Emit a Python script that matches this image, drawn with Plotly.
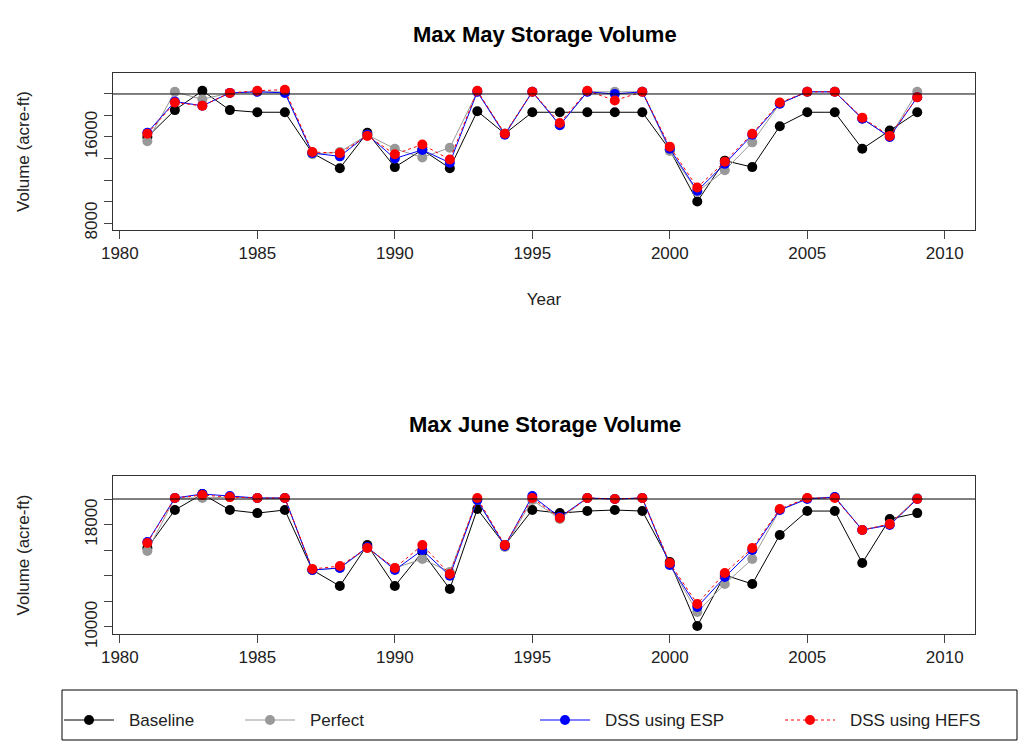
import plotly.graph_objects as go

years = list(range(1981, 2010))
may_base = [16000,18500,20300,18500,18300,18300,14500,13100,16400,13200,14800,13100,18400,16300,18300,18300,18300,18300,18300,14800,10000,13800,13200,17000,18300,18300,14900,16600,18300]
may_perf = [15600,20200,19500,20100,20200,20200,14400,14600,16200,14900,14100,15000,20200,16300,20200,17100,20200,20200,20200,14700,10900,12900,15500,19100,20200,20200,17700,16000,20200]
may_esp = [16400,19300,18900,20100,20200,20100,14500,14200,16200,14000,14800,13600,20200,16200,20200,17100,20200,20000,20200,14900,11000,13500,16200,19100,20200,20200,17700,16000,19700]
may_hefs = [16300,19200,18900,20100,20300,20400,14600,14500,16100,14400,15300,13900,20300,16300,20200,17300,20300,19400,20200,15100,11300,13700,16300,19200,20200,20200,17800,16100,19700]
jun_base = [16170,19140,20390,19140,18900,19140,14450,13200,16400,13200,15860,12970,19220,16400,19140,18900,19060,19140,19060,15080,10080,14060,13360,17190,19060,19060,15000,18440,18900]
jun_perf = [15940,20080,20080,20150,20080,20080,14450,14610,16170,14610,15310,14300,19920,16250,19920,18440,20080,20000,20080,14840,11170,13360,15310,19140,20080,20150,17580,18040,20080]
jun_esp = [16640,20080,20390,20230,20080,20080,14450,14610,16250,14450,16010,14000,19920,16330,20230,18590,20080,20000,20080,14840,11560,13900,16010,19140,20000,20150,17580,17970,20000]
jun_hefs = [16560,20080,20310,20150,20080,20080,14530,14760,16170,14610,16400,14140,20080,16400,20080,18520,20080,20000,20080,15000,11800,14220,16170,19220,20080,20080,17580,18040,20000]
max_storage = 20000

W, H = 1010, 733
OFF = 8
def px(x): return (x - OFF) / W
def py(y): return 1 - (y - OFF) / H

fig = go.Figure()
series = [
    ("Baseline", "black", "solid", may_base, jun_base),
    ("Perfect", "#999999", "solid", may_perf, jun_perf),
    ("DSS using ESP", "blue", "solid", may_esp, jun_esp),
    ("DSS using HEFS", "red", "dot", may_hefs, jun_hefs),
]
for name, col, dash, m, j in series:
    fig.add_trace(go.Scatter(x=years, y=m, mode="lines+markers", name=name,
        line=dict(color=col, width=1, dash=dash), marker=dict(color=col, size=10),
        xaxis="x", yaxis="y", showlegend=False))
    fig.add_trace(go.Scatter(x=years, y=j, mode="lines+markers", name=name, showlegend=False,
        line=dict(color=col, width=1, dash=dash), marker=dict(color=col, size=10),
        xaxis="x2", yaxis="y2"))

font = dict(family="Liberation Sans, Arial", size=17, color="#222")
xcommon = dict(range=[1979.75, 2011.1], tickvals=[1980,1985,1990,1995,2000,2005,2010],
               ticks="outside", ticklen=8, showgrid=False, zeroline=False, automargin=False,
               showline=True, mirror=True, linecolor="#333", tickfont=font)
ycommon = dict(ticks="outside", ticklen=8, showgrid=False, zeroline=False, showline=True,
               mirror=True, linecolor="#333", tickangle=-90, tickfont=font, automargin=False,
               tickvals=[8000,10000,12000,14000,16000,18000,20000],
               title=dict(text="Volume (acre-ft)", font=font, standoff=48))
fig.update_layout(
    width=W, height=H, margin=dict(l=0, r=0, t=0, b=0),
    paper_bgcolor="white", plot_bgcolor="white", font=font, showlegend=False,
    xaxis=dict(xcommon, domain=[px(113), px(975)], anchor="y",
               title=dict(text="Year", font=font, standoff=30)),
    yaxis=dict(ycommon, domain=[py(230), py(73)], anchor="x", range=[7350, 21950],
               ticktext=["8000","","","","16000","",""]),
    xaxis2=dict(xcommon, domain=[px(113), px(975)], anchor="y2"),
    yaxis2=dict(ycommon, domain=[py(634), py(476)], anchor="x2", range=[9450, 21800],
                tickvals=[10000,12000,14000,16000,18000,20000],
                ticktext=["10000","","","","18000",""]),
)
fig.add_hline(y=max_storage, line=dict(color="black", width=1), xref="x", yref="y")
fig.add_hline(y=max_storage, line=dict(color="black", width=1), xref="x2", yref="y2")
tfont = dict(family="Liberation Sans, Arial", size=22, color="black")
fig.add_annotation(text="<b>Max May Storage Volume</b>", x=px(545), y=py(20), xref="paper", yref="paper", showarrow=False, font=tfont)
fig.add_annotation(text="<b>Max June Storage Volume</b>", x=px(545), y=py(424), xref="paper", yref="paper", showarrow=False, font=tfont)

# manual legend
fig.add_shape(type="rect", xref="paper", yref="paper", x0=px(62), x1=px(1017), y0=py(740), y1=py(690),
              line=dict(color="black", width=1))
ly = py(720)
for i, (name, col, dash, _, _) in enumerate(series):
    x0 = [64, 245, 540, 785][i]
    fig.add_shape(type="line", xref="paper", yref="paper", x0=px(x0), x1=px(x0+50), y0=ly, y1=ly,
                  line=dict(color=col, width=1, dash=dash))
    fig.add_shape(type="circle", xref="paper", yref="paper", x0=px(x0+20), x1=px(x0+30),
                  y0=ly - 5/H, y1=ly + 5/H, fillcolor=col, line=dict(color=col, width=0))
    fig.add_annotation(text=name, x=px(x0+63), y=ly, xref="paper", yref="paper", xanchor="left",
                       yanchor="middle", showarrow=False, font=font)
fig.write_html("out.html")
